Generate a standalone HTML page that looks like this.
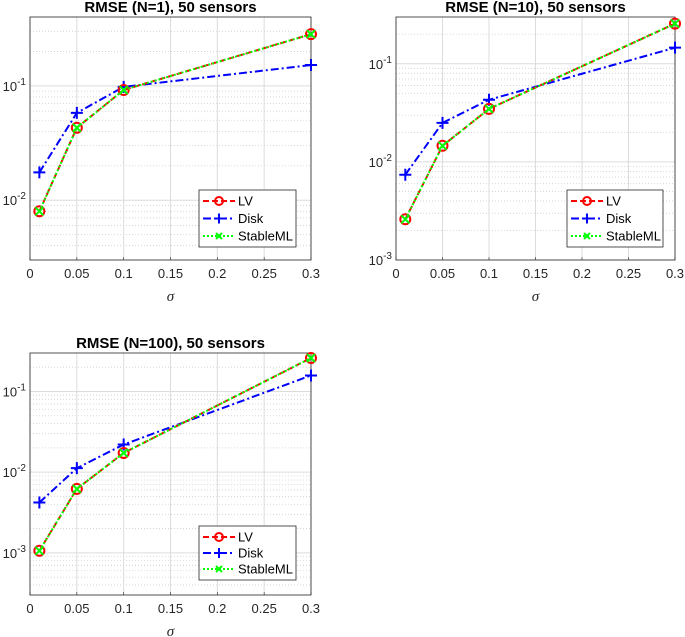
<!DOCTYPE html>
<html><head><meta charset="utf-8"><style>
body{margin:0;background:#fff;}
svg{display:block;font-family:"Liberation Sans",Arial,sans-serif;}
</style></head><body>
<svg id="fig" width="685" height="637" viewBox="0 0 685 637" xmlns="http://www.w3.org/2000/svg"></svg>
<script>
const sigma = [0.01, 0.05, 0.1, 0.3];
const titles = ["RMSE (N=1), 50 sensors", "RMSE (N=10), 50 sensors", "RMSE (N=100), 50 sensors"];
const lv1 = [0.008, 0.043, 0.092, 0.283];
const disk1 = [0.0175, 0.058, 0.098, 0.152];
const lv10 = [0.0026, 0.0146, 0.0347, 0.257];
const disk10 = [0.0074, 0.025, 0.043, 0.146];
const lv100 = [0.00106, 0.0062, 0.0173, 0.26];
const disk100 = [0.0042, 0.0112, 0.022, 0.158];
const xTicks = [0, 0.05, 0.1, 0.15, 0.2, 0.25, 0.3];
const xTickLabels = ["0", "0.05", "0.1", "0.15", "0.2", "0.25", "0.3"];
const ylims = [[0.003, 0.4], [0.001, 0.3], [0.0003, 0.3]];

const NS = "http://www.w3.org/2000/svg";
const svg = document.getElementById("fig");
function mk(tag, attrs, parent) {
  const e = document.createElementNS(NS, tag);
  for (const k in attrs) e.setAttribute(k, attrs[k]);
  (parent || svg).appendChild(e);
  return e;
}
const panels = [
  {L:30, R:311, T:17, B:260, lv:lv1, disk:disk1, yl:ylims[0], leg:[199,190,97,57]},
  {L:396, R:675, T:17, B:260, lv:lv10, disk:disk10, yl:ylims[1], leg:[567,190,96,57]},
  {L:30, R:311, T:353, B:595, lv:lv100, disk:disk100, yl:ylims[2], leg:[199,526,97,54]}
];
panels.forEach((p, pi) => {
  const g = mk("g", {});
  
  
  const lo = Math.log10(p.yl[0]), hi = Math.log10(p.yl[1]);
  const X = v => p.L + (v - 0) / 0.3 * (p.R - p.L);
  const Y = v => p.B - (Math.log10(v) - lo) / (hi - lo) * (p.B - p.T);
  for (let d = Math.floor(lo); d <= Math.ceil(hi); d++) {
    for (let m = 1; m <= 9; m++) {
      const v = m * Math.pow(10, d);
      if (v < p.yl[0] || v > p.yl[1]) continue;
      const y = Y(v);
      if (m === 1) {
        mk("line", {x1:p.L, x2:p.R, y1:y, y2:y, stroke:"#dcdcdc", "stroke-width":1}, g);
        const t = mk("text", {x:p.L - 4, y:y + 5, "text-anchor":"end", "font-size":13, fill:"#262626"}, g);
        
        
        t.textContent = "10";
        const s = mk("tspan", {dy:-6, "font-size":10}, t);
        s.textContent = String(d);
      } else {
        mk("line", {x1:p.L, x2:p.R, y1:y, y2:y, stroke:"#cfcfcf", "stroke-width":0.8, "stroke-dasharray":"1,2"}, g);
      }
    }
  }
  xTicks.forEach((v, i) => {
    const x = X(v);
    mk("line", {x1:x, x2:x, y1:p.T, y2:p.B, stroke:"#dcdcdc", "stroke-width":1}, g);
    mk("line", {x1:x, x2:x, y1:p.B, y2:p.B - 3, stroke:"#262626", "stroke-width":0.6}, g);
    const t = mk("text", {x:x, y:p.B + 18, "text-anchor":"middle", "font-size":13, fill:"#262626"}, g);
    
    
    t.textContent = xTickLabels[i];
  });
  const box = mk("rect", {x:p.L, y:p.T, width:p.R - p.L, height:p.B - p.T, fill:"none", stroke:"#262626", "stroke-width":0.8}, g);
  
  
  const tt = mk("text", {x:(p.L + p.R) / 2, y:p.T - 5, "text-anchor":"middle", "font-size":15, "font-weight":"bold", fill:"#000"}, g);
  
  
  tt.textContent = titles[pi];
  const xl = mk("text", {x:(p.L + p.R) / 2, y:p.B + 41, "text-anchor":"middle", "font-size":15, "font-style":"italic", "font-family":"Liberation Serif,serif", fill:"#262626"}, g);
  
  
  xl.textContent = "σ";
  const pts = arr => arr.map((v, i) => X(sigma[i]) + "," + Y(v)).join(" ");
  const dl = mk("polyline", {points:pts(p.disk), fill:"none", stroke:"#0000ff", "stroke-width":2, "stroke-dasharray":"8,3,2,3"}, g);
  
  
  p.disk.forEach((v, i) => {
    const x = X(sigma[i]), y = Y(v);
    const m = mk("path", {d:`M${x-6},${y}H${x+6}M${x},${y-6}V${y+6}`, stroke:"#0000ff", "stroke-width":2}, g);
    
    
  });
  const ll = mk("polyline", {points:pts(p.lv), fill:"none", stroke:"#ff0000", "stroke-width":2, "stroke-dasharray":"6,3"}, g);
  
  
  p.lv.forEach((v, i) => {
    const c = mk("circle", {cx:X(sigma[i]), cy:Y(v), r:5, fill:"none", stroke:"#ff0000", "stroke-width":2}, g);
    
    
  });
  const sl = mk("polyline", {points:pts(p.lv), fill:"none", stroke:"#00ff00", "stroke-width":2, "stroke-dasharray":"2,2"}, g);
  
  
  p.lv.forEach((v, i) => {
    const x = X(sigma[i]), y = Y(v);
    const m = mk("path", {d:`M${x-4},${y-4}L${x+4},${y+4}M${x-4},${y+4}L${x+4},${y-4}`, stroke:"#00ff00", "stroke-width":2}, g);
    
    
  });
  const [lx, ly, lw, lh] = p.leg;
  const lg = mk("g", {}, g);
  
  
  mk("rect", {x:lx, y:ly, width:lw, height:lh, fill:"#fff", stroke:"#262626", "stroke-width":0.8}, lg);
  const names = ["LV", "Disk", "StableML"];
  const cols = ["#ff0000", "#0000ff", "#00ff00"];
  const dashes = ["6,3", "8,3,2,3", "2,2"];
  names.forEach((n, i) => {
    const y = ly + 11 + i * (lh - 22) / 2;
    const e = mk("g", {}, lg);
    
    
    mk("line", {x1:lx + 4, x2:lx + 36, y1:y, y2:y, stroke:cols[i], "stroke-width":2, "stroke-dasharray":dashes[i]}, e);
    const cx = lx + 20;
    if (i === 0) mk("circle", {cx:cx, cy:y, r:4, fill:"none", stroke:cols[i], "stroke-width":2}, e);
    if (i === 1) mk("path", {d:`M${cx-5},${y}H${cx+5}M${cx},${y-5}V${y+5}`, stroke:cols[i], "stroke-width":2}, e);
    if (i === 2) mk("path", {d:`M${cx-3},${y-3}L${cx+3},${y+3}M${cx-3},${y+3}L${cx+3},${y-3}`, stroke:cols[i], "stroke-width":2}, e);
    const t = mk("text", {x:lx + 39, y:y + 4.5, "font-size":13, fill:"#000"}, e);
    t.textContent = n;
  });
});
</script>
</body></html>
